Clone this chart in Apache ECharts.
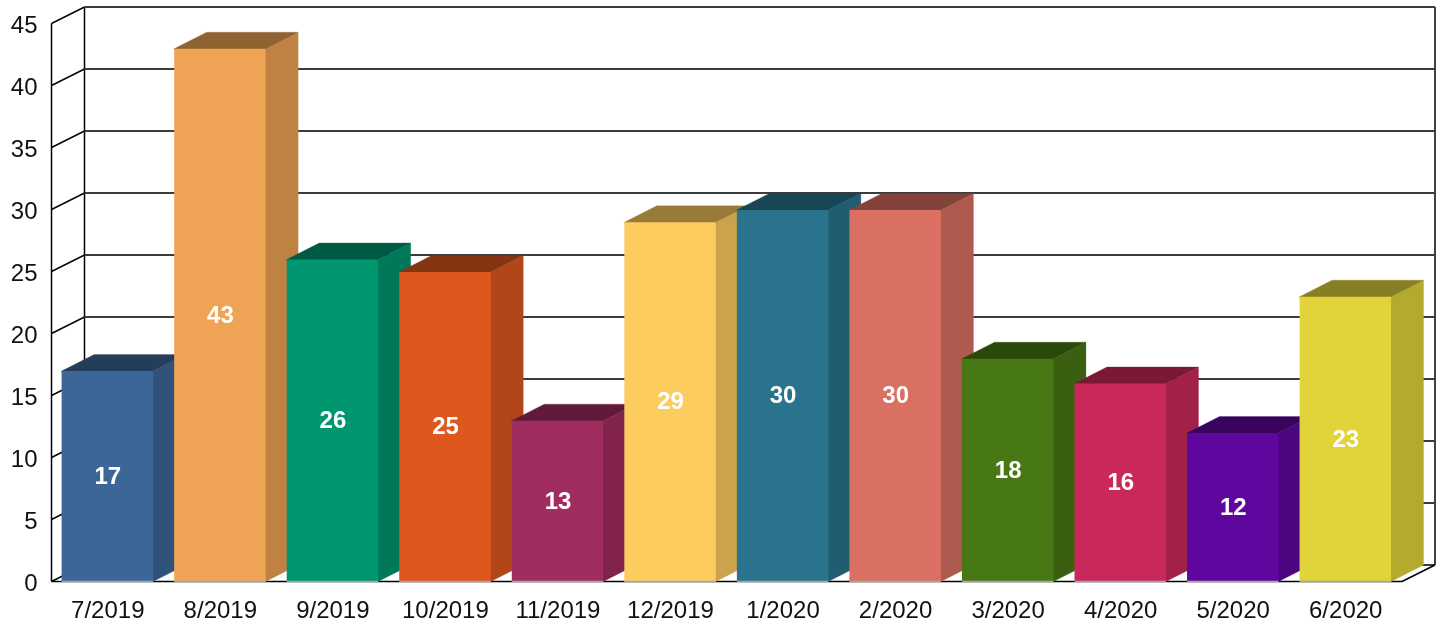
<!DOCTYPE html>
<html>
<head>
<meta charset="utf-8">
<title>Monthly counts</title>
<style>
    html, body { margin: 0; padding: 0; background: #fff; }
    #main { width: 1442px; height: 624px; }
</style>
<script src="https://cdn.jsdelivr.net/npm/echarts@6/dist/echarts.min.js"></script>
</head>
<body>
<div id="main"></div>
<script>
    var months = ['7/2019', '8/2019', '9/2019', '10/2019', '11/2019', '12/2019', '1/2020', '2/2020', '3/2020', '4/2020', '5/2020', '6/2020'];
    var counts = [17, 43, 26, 25, 13, 29, 30, 30, 18, 16, 12, 23];
    var yTicks = [0, 5, 10, 15, 20, 25, 30, 35, 40, 45];
    var barColors = ['#3c6698', '#efa354', '#009670', '#de581e', '#a12c60', '#fdcc5f', '#29748c', '#da7062', '#487813', '#c9295a', '#5e069d', '#e1d43a'];

    var depthX = 33, depthY = -16.5;   // offset from the front plane to the back wall
    var barDepthX = 32.5;
    var barRatio = 0.813;
    var barShift = -0.4;
    var fontName = '"Liberation Sans", Arial, sans-serif';
    var lineStyle = { stroke: '#000', lineWidth: 1.5, fill: null };
    var wallStyle = { stroke: '#3c3c3c', lineWidth: 2, fill: null };

    // darken a hex colour, used for the top and side faces
    function shade(hex, k) {
        var c = echarts.color.parse(hex);
        return 'rgb(' + Math.round(c[0] * k) + ',' + Math.round(c[1] * k) + ',' + Math.round(c[2] * k) + ')';
    }

    function line(x1, y1, x2, y2, style) {
        return { type: 'line', shape: { x1: x1, y1: y1, x2: x2, y2: y2 }, style: style };
    }

    // back wall grid line and its slanted part on the left wall, one per tick
    function renderWall(params, api) {
        var sys = params.coordSys;
        var p = api.coord([0, api.value(0)]);
        var left = sys.x, y = p[1];
        var children = [
            line(left, y, left + depthX, y + depthY, lineStyle),
            line(left + depthX, y + depthY, left + sys.width + depthX, y + depthY, wallStyle)
        ];
        if (api.value(0) === 0) {
            children.push(line(left, sys.y, left, y, lineStyle));
            children.push(line(left + depthX, sys.y + depthY, left + depthX, y + depthY, lineStyle));
            children.push(line(left + sys.width + depthX, sys.y + depthY, left + sys.width + depthX, y + depthY, lineStyle));
            children.push(line(left + sys.width, y, left + sys.width + depthX, y + depthY, lineStyle));
            children.push(line(left, y, left + sys.width, y, lineStyle));
        }
        return { type: 'group', children: children };
    }

    function renderBar(params, api) {
        var i = api.value(0), v = api.value(1);
        var top = api.coord([i, v]);
        var base = api.coord([i, 0]);
        var w = api.size([1, 0])[0] * barRatio;
        var cx = top[0] + barShift;
        var x0 = cx - w / 2, x1 = cx + w / 2;
        var yTop = top[1] + 0.4;
        var color = barColors[params.dataIndex];
        var side = shade(color, 0.8), cap = shade(color, 0.6);
        return {
            type: 'group',
            children: [
                // side and top run a little under the front face so no seam shows
                {
                    type: 'polygon',
                    shape: { points: [[x1 - 1, yTop], [x1, yTop], [x1 + barDepthX, yTop + depthY], [x1 + barDepthX, base[1] + depthY], [x1, base[1]], [x1 - 1, base[1]]] },
                    style: { fill: side, stroke: side, lineWidth: 0.3 }
                },
                {
                    type: 'polygon',
                    shape: { points: [[x0, yTop + 1], [x0, yTop], [x0 + barDepthX, yTop + depthY], [x1 + barDepthX, yTop + depthY], [x1, yTop], [x1, yTop + 1]] },
                    style: { fill: cap, stroke: cap, lineWidth: 0.3 }
                },
                {
                    type: 'rect',
                    shape: { x: x0, y: yTop, width: w, height: base[1] - yTop },
                    style: { fill: color }
                },
                line(x0, base[1], x1, base[1], { stroke: '#a6a6a6', lineWidth: 1.5, fill: null }),
                {
                    type: 'text',
                    style: {
                        x: cx + 0.5,
                        y: (top[1] + base[1]) / 2 + 1,
                        text: String(v),
                        fill: '#fff',
                        font: 'bold 24px ' + fontName,
                        align: 'center',
                        verticalAlign: 'middle'
                    }
                }
            ]
        };
    }

    var myChart = echarts.init(document.getElementById('main'), null, { renderer: 'canvas' });

    var option = {
        animation: false,
        backgroundColor: '#fff',
        grid: { left: 51.5, right: 40, top: 23.5, bottom: 42.5 },
        xAxis: {
            type: 'category',
            data: months,
            axisLine: { show: false },
            axisTick: { show: false },
            axisLabel: { interval: 0, margin: 18, fontSize: 24, fontFamily: fontName, color: '#111' }
        },
        yAxis: {
            type: 'value',
            min: 0,
            max: 45,
            interval: 5,
            axisLine: { show: false },
            axisTick: { show: false },
            splitLine: { show: false },
            axisLabel: {
                margin: 14,
                formatter: '{tick|{value}}',
                rich: {
                    tick: { fontSize: 24, fontFamily: fontName, color: '#111', padding: [6, 0, 0, 0] }
                }
            }
        },
        series: [
            {
                type: 'custom',
                name: 'walls',
                coordinateSystem: 'cartesian2d',
                silent: true,
                clip: false,
                z: 1,
                renderItem: renderWall,
                data: yTicks.map(function (t) { return [t]; }),
                encode: { y: 0 }
            },
            {
                type: 'custom',
                name: 'count',
                coordinateSystem: 'cartesian2d',
                clip: false,
                z: 2,
                renderItem: renderBar,
                data: counts.map(function (c, i) { return [i, c]; }),
                encode: { x: 0, y: 1 }
            }
        ]
    };

    myChart.setOption(option);
</script>
</body>
</html>
